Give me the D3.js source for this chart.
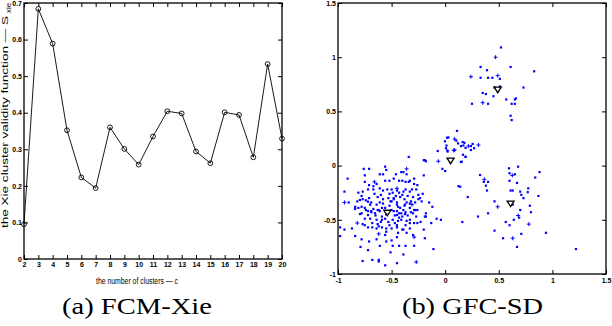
<!DOCTYPE html>
<html><head><meta charset="utf-8">
<script src="https://cdn.jsdelivr.net/npm/d3@7"></script>
<style>
body{margin:0;background:#fff;}
svg{display:block;}
.tick text{font-family:"Liberation Sans",Arial,sans-serif;font-weight:bold;font-size:7px;fill:#000;}
</style></head>
<body>
<script>
// ---- Data: (a) FCM-Xie validity function ----
const clusterCounts = [2,3,4,5,6,7,8,9,10,11,12,13,14,15,16,17,18,19,20];
const xieValues = [0.095,0.684,0.589,0.352,0.223,0.194,0.360,0.301,0.258,0.335,0.404,0.398,0.294,0.262,0.401,0.394,0.278,0.533,0.329];
const leftYTicks = [0,0.1,0.2,0.3,0.4,0.5,0.6,0.7];
const leftYTickLabels = ["0","0.1","0.2","0.3","0.4","0.5","0.6","0.7"];

// ---- Data: (b) GFC-SD scatter ----
const bigClusterDots = [
[-0.34,0.08],[-0.20,0.05],[-0.19,0.05],
[-0.76,-0.03],[-0.71,-0.03],[-0.56,-0.01],[-0.55,-0.04],[-0.36,-0.08],
[-0.91,-0.12],[-0.75,-0.09],[-0.61,-0.08],[-0.58,-0.08],[-0.46,-0.08],[-0.41,-0.06],[-0.39,-0.06],[-0.20,-0.09],[-0.29,-0.12],
[-0.75,-0.15],[-0.64,-0.17],[-0.56,-0.14],[-0.52,-0.14],[-0.48,-0.12],[-0.43,-0.14],[-0.40,-0.14],[-0.37,-0.15],[-0.34,-0.15],[-0.33,-0.14],[-0.29,-0.17],[-0.26,-0.18],[-0.71,-0.18],[-0.67,-0.19],
[-0.94,-0.24],[-0.81,-0.25],[-0.77,-0.24],[-0.72,-0.22],[-0.67,-0.22],[-0.61,-0.21],[-0.58,-0.23],[-0.54,-0.22],[-0.50,-0.22],[-0.49,-0.25],[-0.45,-0.23],[-0.43,-0.25],[-0.39,-0.24],[-0.37,-0.22],[-0.33,-0.24],[-0.31,-0.22],[-0.27,-0.22],[-0.25,-0.27],[-0.21,-0.26],
[-0.90,-0.34],[-0.82,-0.33],[-0.78,-0.28],[-0.77,-0.31],[-0.74,-0.32],[-0.71,-0.30],[-0.69,-0.34],[-0.63,-0.29],[-0.61,-0.34],[-0.58,-0.31],[-0.53,-0.30],[-0.51,-0.33],[-0.48,-0.31],[-0.45,-0.34],[-0.42,-0.29],[-0.38,-0.31],[-0.36,-0.34],[-0.32,-0.33],[-0.28,-0.34],[-0.25,-0.31],[-0.22,-0.33],[-0.15,-0.34],[-0.12,-0.38],
[-0.84,-0.38],[-0.84,-0.40],[-0.78,-0.38],[-0.74,-0.41],[-0.72,-0.42],[-0.69,-0.42],[-0.67,-0.40],[-0.63,-0.41],[-0.61,-0.42],[-0.59,-0.39],[-0.50,-0.41],[-0.48,-0.42],[-0.45,-0.42],[-0.43,-0.44],[-0.39,-0.41],[-0.37,-0.43],[-0.33,-0.39],[-0.29,-0.41],[-0.26,-0.41],[-0.18,-0.44],[-0.18,-0.47],
[-0.77,-0.54],[-0.75,-0.49],[-0.70,-0.49],[-0.68,-0.53],[-0.64,-0.50],[-0.63,-0.54],[-0.59,-0.50],[-0.56,-0.49],[-0.53,-0.52],[-0.49,-0.50],[-0.47,-0.53],[-0.43,-0.48],[-0.41,-0.50],[-0.40,-0.47],[-0.36,-0.51],[-0.33,-0.50],[-0.29,-0.53],[-0.26,-0.53],[-0.23,-0.52],[-0.13,-0.53],[-0.08,-0.49],[-0.04,-0.50],
[-0.98,-0.57],[-0.94,-0.59],[-0.87,-0.58],[-0.72,-0.57],[-0.68,-0.57],[-0.64,-0.58],[-0.59,-0.57],[-0.55,-0.61],[-0.50,-0.58],[-0.45,-0.57],[-0.44,-0.62],[-0.40,-0.59],[-0.36,-0.62],[-0.33,-0.58],[-0.20,-0.59],[-0.19,-0.67],[-0.98,-0.65],[-0.84,-0.65],
[-0.79,-0.75],[-0.78,-0.68],[-0.71,-0.70],[-0.64,-0.68],[-0.61,-0.74],[-0.55,-0.70],[-0.50,-0.69],[-0.49,-0.74],[-0.43,-0.74],[-0.37,-0.74],[-0.29,-0.74],[-0.11,-0.77],[-0.72,-0.78],[-0.51,-0.80],[-0.39,-0.82],
[-0.77,-0.88],[-0.68,-0.87],[-0.62,-0.87],[-0.62,-0.885],[-0.45,-0.90],[-0.56,-0.92],
[-0.795,-0.317],[-0.72,-0.333],[-0.64,-0.36],[-0.62,-0.41],[-0.56,-0.39],[-0.50,-0.33],[-0.48,-0.30],[-0.45,-0.36],[-0.42,-0.39],[-0.375,-0.36],[-0.33,-0.35],[-0.28,-0.41],[-0.235,-0.30],[-0.81,-0.39],[-0.75,-0.39],[-0.69,-0.43],[-0.78,-0.44],
[-0.795,-0.447],[-0.72,-0.456],[-0.655,-0.44],[-0.59,-0.47],[-0.45,-0.456],[-0.375,-0.447],[-0.30,-0.44],[-0.19,-0.47],[-0.75,-0.55],[-0.62,-0.56],[-0.55,-0.58],[-0.45,-0.55],[-0.39,-0.59],[-0.33,-0.53],[-0.56,-0.64],[-0.45,-0.66],[-0.30,-0.64],
[-0.66,-0.26],[-0.60,-0.27],[-0.52,-0.26],[-0.46,-0.28],[-0.40,-0.27],[-0.35,-0.28],[-0.30,-0.29],[-0.55,-0.45],[-0.47,-0.46],[-0.41,-0.44],[-0.35,-0.46],[-0.65,-0.46],[-0.70,-0.36],[-0.58,-0.35],[-0.52,-0.37],[-0.44,-0.38],[-0.38,-0.37],[-0.32,-0.43],[-0.27,-0.47],[-0.60,-0.52],[-0.52,-0.55],[-0.44,-0.51],[-0.37,-0.55]
];
const bigClusterPlus = [[-0.36,-0.03],[-0.94,-0.34],[-0.82,-0.53],[-0.29,-0.66],[-0.27,-0.89],[-0.66,-0.15],[-0.45,-0.21],[-0.31,-0.36],[-0.62,-0.63]];
const middleClusterDots = [
[0.11,0.32],[0.017,0.257],[0.03,0.26],[-0.002,0.224],[0.104,0.23],[0.12,0.205],[0.163,0.217],[0.18,0.21],[0.147,0.18],[0.17,0.186],[0.19,0.163],[0.24,0.18],[0.256,0.2],[0.27,0.16],[0.24,0.144],[0.007,0.16],[0.023,0.13],[-0.07,0.135],[0.166,0.10],[0.19,0.082],[0.147,0.033],[-0.18,0.04],[-0.026,-0.03],[0.012,0.185],[0.02,0.14],[0,-0.05],[0.124,-0.19],[0.154,0.036],[0.19,0.08]
];
const middleClusterPlus = [[0.088,0.245],[0.216,0.18],[0.31,0.19],[0.088,0.144],[-0.064,0.04],[0.08,0.14]];
const topClusterDots = [
[0.52,1.09],[0.33,0.91],[0.39,0.88],[0.61,0.91],[0.83,0.87],[0.33,0.81],[0.40,0.81],[0.44,0.81],[0.51,0.80],[0.46,0.72],[0.51,0.73],[0.73,0.72],[0.35,0.67],[0.38,0.66],[0.45,0.64],[0.25,0.57],[0.40,0.57],[0.57,0.61],[0.65,0.61],[0.66,0.62],[0.62,0.57],[0.65,0.57],[0.61,0.46],[0.62,0.42]
];
const topClusterPlus = [[0.47,1.00],[0.24,0.82],[0.49,0.83],[0.35,0.58]];
const lowClusterDots = [
[0.595,-0.025],[0.68,-0.01],[0.60,-0.07],[0.65,-0.08],[0.88,-0.06],[0.84,-0.11],[0.325,-0.087],[0.40,-0.15],[0.36,-0.15],[0.38,-0.185],[0.39,-0.23],[0.60,-0.14],[0.67,-0.16],[0.775,-0.21],[0.77,-0.245],[0.61,-0.23],[0.63,-0.23],[0.70,-0.24],[0.71,-0.27],[0.73,-0.30],[0.87,-0.28],[0.14,-0.195],[0.21,-0.29],[0.46,-0.33],[0.63,-0.36],[0.79,-0.37],[0.70,-0.41],[0.80,-0.43],[0.40,-0.44],[0.69,-0.48],[0.306,-0.47],[0.64,-0.50],[0.565,-0.52],[0.60,-0.55],[0.16,-0.52],[0.46,-0.60],[0.94,-0.62],[0.71,-0.63],[0.54,-0.67],[0.67,-0.75],[1.22,-0.77]
];
const lowClusterPlus = [[0.626,-0.09],[0.365,-0.127],[0.49,-0.38],[0.68,-0.46],[0.78,-0.54],[0.63,-0.67]];
const clusterCenters = [[-0.54,-0.435],[0.05,0.045],[0.49,0.70],[0.61,-0.35]];
const rightTicks = [-1,-0.5,0,0.5,1,1.5];
const rightTickLabels = ["-1","-0.5","0","0.5","1","1.5"];

const svg = d3.select("body").append("svg").attr("width",612).attr("height",326);

// ================= (a) left plot =================
const xL = d3.scaleLinear().domain([2,20]).range([24,282]);
const yL = d3.scaleLinear().domain([0,0.7]).range([259,3]);

function styleAxis(g){
  g.select(".domain").remove();
  g.selectAll(".tick line").attr("stroke","#000").attr("stroke-width",1);
}
svg.append("g").attr("transform","translate(0,259)")
  .call(d3.axisBottom(xL).tickValues(clusterCounts).tickFormat(d3.format("d")).tickSize(-4).tickPadding(3)).call(styleAxis);
svg.append("g").attr("transform","translate(0,3)")
  .call(d3.axisTop(xL).tickValues(clusterCounts).tickFormat("").tickSize(-4)).call(styleAxis);
svg.append("g").attr("transform","translate(24,0)")
  .call(d3.axisLeft(yL).tickValues(leftYTicks).tickFormat((d,i)=>leftYTickLabels[i]).tickSize(-4).tickPadding(2)).call(styleAxis);
svg.append("g").attr("transform","translate(282,0)")
  .call(d3.axisRight(yL).tickValues(leftYTicks).tickFormat("").tickSize(-4)).call(styleAxis);
svg.append("rect").attr("x",xL(2)).attr("y",yL(0.7)).attr("width",xL(20)-xL(2)).attr("height",yL(0)-yL(0.7))
  .attr("fill","none").attr("stroke","#000").attr("stroke-width",1.3);

const line = d3.line().x((d,i)=>xL(clusterCounts[i])).y(d=>yL(d));
svg.append("path").datum(xieValues).attr("d",line).attr("fill","none").attr("stroke","#000").attr("stroke-width",0.9);
svg.append("g").selectAll("circle").data(xieValues).join("circle")
  .attr("cx",(d,i)=>xL(clusterCounts[i])).attr("cy",d=>yL(d)).attr("r",2.4)
  .attr("fill","none").attr("stroke","#000").attr("stroke-width",0.9);

svg.append("text").attr("x",137).attr("y",284).attr("text-anchor","middle")
  .attr("font-family","Liberation Sans Narrow, Liberation Sans, sans-serif").attr("font-size",8.5)
  .attr("textLength",82).attr("lengthAdjust","spacingAndGlyphs")
  .text("the number of clusters \u2014 c");
svg.append("text").attr("transform","translate(8,228) rotate(-90)")
  .attr("font-family","Liberation Sans, sans-serif").attr("font-size",9)
  .attr("textLength",212).attr("lengthAdjust","spacingAndGlyphs")
  .text("the Xie cluster validity function \u2014 S");
svg.append("text").attr("transform","translate(11,13) rotate(-90)")
  .attr("font-family","Liberation Sans, sans-serif").attr("font-size",6.5)
  .attr("textLength",10).attr("lengthAdjust","spacingAndGlyphs")
  .text("xie");

// ================= (b) right plot =================
const xR = d3.scaleLinear().domain([-1,1.5]).range([338,606]);
const yR = d3.scaleLinear().domain([-1,1.5]).range([274,3]);

svg.append("g").attr("transform","translate(0,274)")
  .call(d3.axisBottom(xR).tickValues(rightTicks).tickFormat((d,i)=>rightTickLabels[i]).tickSize(-4).tickPadding(4)).call(styleAxis);
svg.append("g").attr("transform","translate(0,3)")
  .call(d3.axisTop(xR).tickValues(rightTicks).tickFormat("").tickSize(-4)).call(styleAxis);
svg.append("g").attr("transform","translate(338,0)")
  .call(d3.axisLeft(yR).tickValues(rightTicks).tickFormat((d,i)=>rightTickLabels[i]).tickSize(-4).tickPadding(2)).call(styleAxis);
svg.append("g").attr("transform","translate(606,0)")
  .call(d3.axisRight(yR).tickValues(rightTicks).tickFormat("").tickSize(-4)).call(styleAxis);
svg.append("rect").attr("x",xR(-1)).attr("y",yR(1.5)).attr("width",xR(1.5)-xR(-1)).attr("height",yR(-1)-yR(1.5))
  .attr("fill","none").attr("stroke","#000").attr("stroke-width",1.3);

const allDots = bigClusterDots.concat(middleClusterDots, topClusterDots, lowClusterDots);
const allPlus = bigClusterPlus.concat(middleClusterPlus, topClusterPlus, lowClusterPlus);
const blue = "#0000ff";
svg.append("g").selectAll("rect").data(allDots).join("rect")
  .attr("x",d=>xR(d[0])-1.1).attr("y",d=>yR(d[1])-1.1).attr("width",2.2).attr("height",2.2).attr("fill",blue);
svg.append("g").selectAll("path").data(allPlus).join("path")
  .attr("d",d=>{const x=xR(d[0]),y=yR(d[1]);return `M${x-2},${y}H${x+2}M${x},${y-2}V${y+2}`;})
  .attr("stroke",blue).attr("stroke-width",1).attr("fill","none");
svg.append("g").selectAll("path").data(clusterCenters).join("path")
  .attr("d",d=>{const x=xR(d[0]),y=yR(d[1]);return `M${x-3.5},${y-2.5}H${x+3.5}L${x},${y+3}Z`;})
  .attr("stroke","#000").attr("stroke-width",1.3).attr("fill","none");

// ================= captions =================
svg.append("text").attr("x",62).attr("y",314).attr("font-family","Liberation Serif, serif").attr("font-size",24)
  .attr("textLength",150).attr("lengthAdjust","spacingAndGlyphs").text("(a) FCM-Xie");
svg.append("text").attr("x",402).attr("y",314).attr("font-family","Liberation Serif, serif").attr("font-size",24)
  .attr("textLength",141).attr("lengthAdjust","spacingAndGlyphs").text("(b) GFC-SD");
</script>
</body></html>
